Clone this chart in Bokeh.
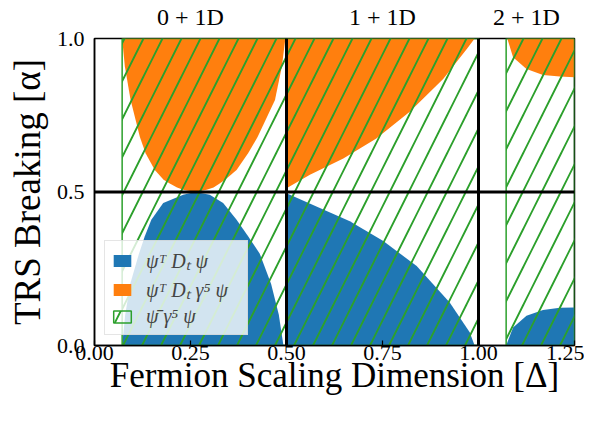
from bokeh.plotting import figure
from bokeh.models import Span, LinearAxis, FixedTicker, Legend, LegendItem, PrintfTickFormatter
from bokeh.embed import file_html
from bokeh.resources import INLINE

# ---------------- data ----------------
x_ticks = [0.0, 0.25, 0.5, 0.75, 1.0, 1.25]
y_ticks = [0.0, 0.5, 1.0]
dim_labels = ["0 + 1D", "1 + 1D", "2 + 1D"]
dim_label_x = [0.25, 0.75, 1.125]
dividers_x = [0.5, 1.0]
divider_y = 0.5

# hatched (allowed) ranges of Delta for psibar gamma5 psi
hatch_left = [0.072, 1.072]
hatch_right = [1.0, 1.25]

# 0+1D orange region (alpha, left edge, right edge)
o01_a = [1.0, 0.91, 0.80, 0.68, 0.626, 0.572, 0.54, 0.528, 0.515, 0.507]
o01_l = [0.072, 0.079, 0.094, 0.118, 0.133, 0.157, 0.18, 0.196, 0.215, 0.231]
o01_r = [0.497, 0.488, 0.470, 0.425, 0.40, 0.37, 0.34, 0.326, 0.31, 0.292]
o01_tip = (0.262, 0.5)

# 0+1D blue region
b01_a = [0.0, 0.1, 0.2, 0.3, 0.356, 0.41, 0.464, 0.491]
b01_l = [0.072, 0.08, 0.093, 0.116, 0.131, 0.148, 0.179, 0.231]
b01_r = [0.492, 0.48, 0.46, 0.43, 0.40, 0.37, 0.335, 0.30]
b01_tip = (0.262, 0.5)

# 1+1D orange boundary (Delta, alpha)
o11_d = [0.5, 0.561, 0.648, 0.734, 0.821, 0.908, 0.969, 0.99]
o11_a = [0.512, 0.556, 0.609, 0.674, 0.761, 0.868, 0.965, 1.0]

# 1+1D blue boundary
b11_d = [0.5, 0.578, 0.665, 0.752, 0.839, 0.925, 0.977, 0.99]
b11_a = [0.496, 0.453, 0.405, 0.34, 0.259, 0.14, 0.043, 0.0]

# 2+1D orange boundary
o21_d = [1.075, 1.09, 1.125, 1.168, 1.212, 1.25]
o21_a = [1.0, 0.939, 0.901, 0.881, 0.876, 0.874]

# 2+1D blue boundary
b21_d = [1.072, 1.09, 1.125, 1.168, 1.212, 1.25]
b21_a = [0.0, 0.059, 0.097, 0.116, 0.123, 0.124]

BLUE = "#1f77b4"
ORANGE = "#ff7f0e"
GREEN = "#2ca02c"
FONT = "Liberation Serif"

# ---------------- polygons ----------------
def lens(a, l, r, tip):
    xs = list(l) + [tip[0]] + list(reversed(r))
    ys = list(a) + [tip[1]] + list(reversed(a))
    return xs, ys

ox1, oy1 = lens(o01_a, o01_l, o01_r, o01_tip)
bx1, by1 = lens(b01_a, b01_l, b01_r, b01_tip)

ox2 = [0.5] + o11_d
oy2 = [1.0] + o11_a
bx2 = [0.5] + b11_d
by2 = [0.0] + b11_a

ox3 = o21_d + [1.25]
oy3 = o21_a + [1.0]
bx3 = b21_d + [1.25]
by3 = b21_a + [0.0]

p = figure(width=584, height=405, x_range=(0, 1.25), y_range=(0, 1),
           output_backend="svg", toolbar_location=None,
           min_border_left=94, min_border_top=36, min_border_right=10, min_border_bottom=60)
p.xgrid.visible = False
p.ygrid.visible = False
p.outline_line_color = "black"
p.outline_line_width = 1.5

blue = p.patches([bx1, bx2, bx3], [by1, by2, by3], fill_color=BLUE, line_color=None)
orange = p.patches([ox1, ox2, ox3], [oy1, oy2, oy3], fill_color=ORANGE, line_color=None)
hatch = p.quad(left=hatch_left, right=hatch_right, bottom=0, top=1,
               fill_color=None, hatch_pattern="/", hatch_color=GREEN,
               hatch_scale=38, hatch_weight=1.9, line_color=GREEN, line_width=1.5)

for xv in dividers_x:
    p.add_layout(Span(location=xv, dimension="height", line_color="black", line_width=3))
p.add_layout(Span(location=divider_y, dimension="width", line_color="black", line_width=3))

# axes
p.xaxis.ticker = FixedTicker(ticks=x_ticks)
p.xaxis.formatter = PrintfTickFormatter(format="%.2f")
p.yaxis.ticker = FixedTicker(ticks=y_ticks)
p.yaxis.formatter = PrintfTickFormatter(format="%.1f")
for ax in (p.xaxis, p.yaxis):
    ax.major_tick_in = 5
    ax.major_tick_out = 0
    ax.minor_tick_line_color = None
    ax.major_tick_line_color = "black"
    ax.major_tick_line_width = 1.2
    ax.axis_line_color = "black"
    ax.axis_line_width = 1.5
    ax.major_label_text_font = FONT
    ax.major_label_text_font_size = "22px"
    ax.major_label_text_color = "black"
    ax.axis_label_text_font = FONT
    ax.axis_label_text_font_style = "normal"
    ax.axis_label_text_color = "black"
p.xaxis.axis_label = "Fermion Scaling Dimension [Δ]"
p.yaxis.axis_label = "TRS Breaking [α]"
p.xaxis.axis_label_text_font_size = "35px"
p.yaxis.axis_label_text_font_size = "37px"
p.xaxis.major_label_standoff = 0
p.xaxis.axis_label_standoff = -7
p.yaxis.major_label_standoff = 10
p.yaxis.axis_label_standoff = 6

top = LinearAxis(ticker=FixedTicker(ticks=dim_label_x),
                 major_label_overrides={xv: t for xv, t in zip(dim_label_x, dim_labels)})
top.axis_line_color = None
top.major_tick_line_color = None
top.minor_tick_line_color = None
top.major_label_text_font = FONT
top.major_label_text_font_size = "24px"
top.major_label_text_color = "black"
top.major_label_standoff = 3
p.add_layout(top, "above")

legend = Legend(items=[
    LegendItem(label="ψᵀ Dₜ ψ", renderers=[blue]),
    LegendItem(label="ψᵀ Dₜ γ⁵ ψ", renderers=[orange]),
    LegendItem(label="ψ̄ γ⁵ ψ", renderers=[hatch]),
], location="bottom_left")
legend.margin = 10
legend.padding = 6
legend.spacing = 2
legend.glyph_width = 22
legend.glyph_height = 15
legend.label_height = 20
legend.label_width = 95
legend.label_standoff = 13
legend.label_text_font = FONT
legend.label_text_font_style = "italic"
legend.label_text_font_size = "20px"
legend.background_fill_color = "white"
legend.background_fill_alpha = 0.8
legend.border_line_color = "#cccccc"
legend.border_line_width = 1
p.add_layout(legend, "center")

open("out.html", "w").write(file_html(p, INLINE))
